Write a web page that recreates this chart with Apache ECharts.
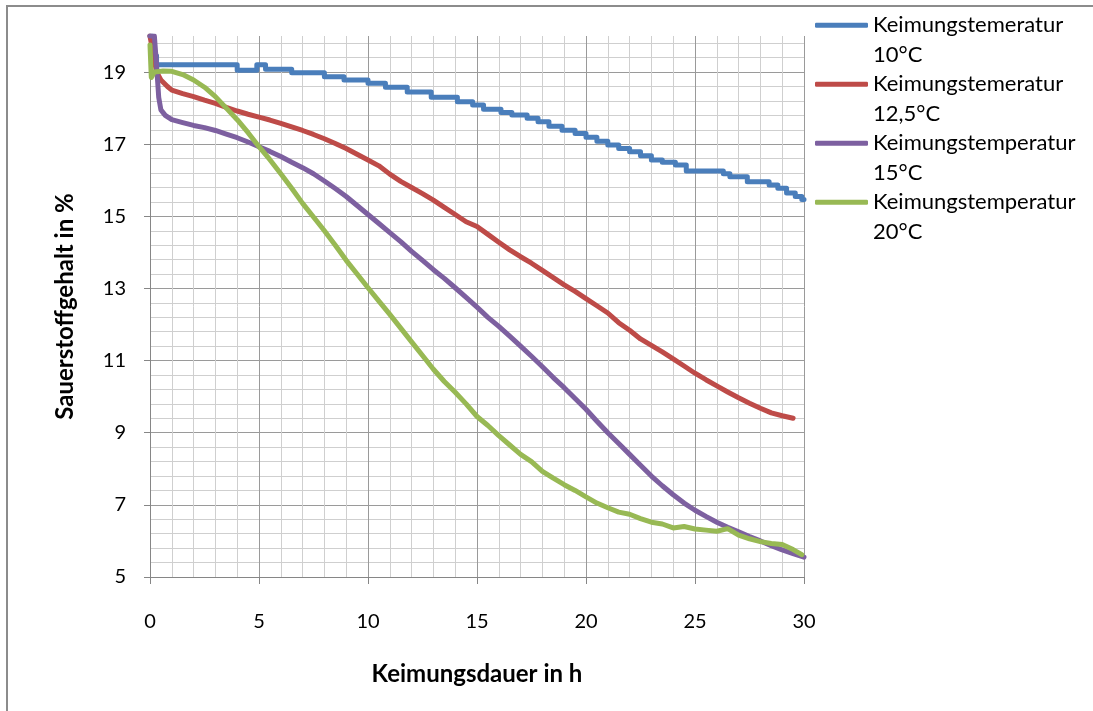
<!DOCTYPE html>
<html><head><meta charset="utf-8">
<script src="https://cdn.jsdelivr.net/npm/echarts@6/dist/echarts.min.js"></script>
<style>html,body{margin:0;padding:0;background:#fff}#c{width:1093px;height:711px}</style>
</head><body><div id="c"></div>
<script>
const seriesNames = ['Keimungstemeratur 10°C', 'Keimungstemeratur 12,5°C', 'Keimungstemperatur 15°C', 'Keimungstemperatur 20°C'];
const colors = ['#4a7ebb', '#be4b48', '#7d60a0', '#98b954'];
const yTickLabels = [5, 7, 9, 11, 13, 15, 17, 19];
const xTickLabels = [0, 5, 10, 15, 20, 25, 30];

// 10°C (stepped readings: value starts at time t)
const temp10 = [[0,20],[0.1,19.75],[0.2,19.45],[0.3,19.2],[4.0,19.05],[4.9,19.2],[5.3,19.08],[6.5,18.98],[8.0,18.87],[8.9,18.78],[10.0,18.69],[10.8,18.58],[11.8,18.45],[12.9,18.3],[14.1,18.18],[14.8,18.09],[15.3,17.97],[16.1,17.88],[16.6,17.81],[17.3,17.72],[17.8,17.62],[18.3,17.5],[18.9,17.39],[19.5,17.3],[20.0,17.19],[20.5,17.08],[21.0,16.98],[21.5,16.88],[22.0,16.79],[22.5,16.68],[23.0,16.56],[23.5,16.5],[24.1,16.42],[24.6,16.26],[26.3,16.18],[26.6,16.1],[27.4,15.96],[28.4,15.87],[28.8,15.78],[29.2,15.65],[29.6,15.55],[29.9,15.47],[30.0,15.47]];
// 12,5°C
const temp125 = [[0,20],[0.15,19.5],[0.3,19.0],[0.5,18.78],[0.8,18.6],[1.0,18.5],[1.5,18.4],[2,18.32],[2.5,18.22],[3,18.13],[3.5,18.02],[4,17.92],[4.5,17.83],[5,17.75],[5.5,17.67],[6,17.58],[6.5,17.48],[7,17.38],[7.5,17.27],[8,17.15],[8.5,17.02],[9,16.88],[9.5,16.72],[10,16.56],[10.5,16.4],[11,16.17],[11.5,15.97],[12,15.8],[12.5,15.63],[13,15.45],[13.5,15.25],[14,15.05],[14.5,14.85],[15,14.72],[15.5,14.5],[16,14.28],[16.5,14.07],[17,13.88],[17.5,13.7],[18,13.5],[18.5,13.3],[19,13.1],[19.5,12.92],[20,12.72],[20.5,12.52],[21,12.32],[21.5,12.05],[22,11.84],[22.5,11.6],[23,11.42],[23.5,11.24],[24,11.05],[24.5,10.85],[25,10.65],[25.5,10.47],[26,10.3],[26.5,10.13],[27,9.97],[27.5,9.82],[28,9.68],[28.5,9.55],[29,9.47],[29.5,9.4]];
// 15°C
const temp15 = [[0,20],[0.2,20],[0.3,19.2],[0.4,18.3],[0.5,17.95],[0.7,17.8],[1,17.68],[1.5,17.6],[2,17.52],[2.5,17.46],[3,17.38],[3.5,17.28],[4,17.18],[4.5,17.06],[5,16.93],[5.5,16.8],[6,16.66],[6.5,16.5],[7,16.35],[7.5,16.18],[8,15.98],[8.5,15.77],[9,15.55],[9.5,15.3],[10,15.05],[10.5,14.8],[11,14.55],[11.5,14.3],[12,14.03],[12.5,13.78],[13,13.52],[13.5,13.28],[14,13.02],[14.5,12.75],[15,12.48],[15.5,12.2],[16,11.95],[16.5,11.68],[17,11.4],[17.5,11.12],[18,10.83],[18.5,10.53],[19,10.25],[19.5,9.95],[20,9.65],[20.5,9.32],[21,9.0],[21.5,8.7],[22,8.4],[22.5,8.1],[23,7.8],[23.5,7.53],[24,7.28],[24.5,7.05],[25,6.85],[25.5,6.68],[26,6.52],[26.5,6.38],[27,6.25],[27.5,6.12],[28,6.0],[28.5,5.87],[29,5.75],[29.5,5.65],[30,5.55]];
// 20°C
const temp20 = [[0,19.75],[0.06,18.85],[0.2,19.0],[0.6,19.03],[1.0,19.02],[1.5,18.93],[2,18.78],[2.5,18.58],[3,18.32],[3.5,18.0],[4,17.68],[4.5,17.32],[5,16.93],[5.5,16.57],[6,16.18],[6.5,15.78],[7,15.36],[7.5,14.98],[8,14.6],[8.5,14.2],[9,13.78],[9.5,13.4],[10,13.02],[10.5,12.65],[11,12.28],[11.5,11.9],[12,11.52],[12.5,11.14],[13,10.76],[13.5,10.42],[14,10.12],[14.5,9.8],[15,9.45],[15.5,9.2],[16,8.92],[16.5,8.66],[17,8.4],[17.5,8.2],[18,7.93],[18.5,7.74],[19,7.56],[19.5,7.4],[20,7.22],[20.5,7.05],[21,6.92],[21.5,6.8],[22,6.74],[22.5,6.62],[23,6.52],[23.5,6.47],[24,6.36],[24.5,6.4],[25,6.33],[25.5,6.3],[26,6.27],[26.5,6.34],[27,6.16],[27.5,6.06],[28,5.98],[28.5,5.93],[29,5.9],[29.5,5.76],[29.9,5.62]];

const FONT = 'Lato';
const chart = echarts.init(document.getElementById('c'), null, {renderer: 'canvas'});
const lineSeries = (name, data, color, step) => ({
  name, type: 'line', data, step: step || false, showSymbol: false, symbol: 'none',
  xAxisIndex: 0, yAxisIndex: 0,
  lineStyle: {color, width: 5, cap: 'round', join: 'round'},
  itemStyle: {color}, emphasis: {disabled: true}, z: 3
});
chart.setOption({
  animation: false,
  backgroundColor: '#fff',
  textStyle: {fontFamily: FONT},
  grid: {left: 150, right: 289, top: 36, bottom: 134, containLabel: false},
  graphic: [{type: 'rect', silent: true, z: -10, shape: {x: 7, y: 6, width: 1100, height: 720},
    style: {fill: 'none', stroke: '#8c8c8c', lineWidth: 2}}],
  legend: {
    orient: 'vertical', left: 815, top: -19, padding: 0,
    itemWidth: 53, itemHeight: 5, itemGap: -29.5, icon: 'roundRect',
    data: seriesNames,
    formatter: n => '\n' + n.replace(' ', '\n'),
    textStyle: {fontFamily: FONT, fontSize: 22, color: '#000', lineHeight: 29.5}
  },
  xAxis: [{
    type: 'value', min: 0, max: 30, interval: 5,
    name: 'Keimungsdauer in h', nameLocation: 'middle', nameGap: 85,
    nameTextStyle: {fontFamily: FONT, fontSize: 24, fontWeight: 'bold', color: '#000'},
    axisLine: {show: true, onZero: false, lineStyle: {color: '#868686', width: 1}},
    axisTick: {show: true, length: 7, lineStyle: {color: '#868686'}},
    axisLabel: {fontFamily: FONT, fontSize: 20, color: '#000', margin: 35, customValues: xTickLabels},
    splitLine: {show: true, lineStyle: {color: '#9a9a9a', width: 1}},
    minorTick: {show: false, splitNumber: 5},
    minorSplitLine: {show: true, lineStyle: {color: '#cfcfcf', width: 1}}
  }],
  yAxis: [{
    type: 'value', min: 5, max: 20,
    name: 'Sauerstoffgehalt in %', nameLocation: 'middle', nameGap: 73, nameRotate: 90,
    nameTextStyle: {fontFamily: FONT, fontSize: 24, fontWeight: 'bold', color: '#000'},
    axisLine: {show: true, onZero: false, lineStyle: {color: '#868686', width: 1}},
    axisTick: {show: true, length: 6, lineStyle: {color: '#868686'}, customValues: yTickLabels},
    axisLabel: {fontFamily: FONT, fontSize: 20, color: '#000', margin: 24, customValues: yTickLabels},
    splitLine: {show: false}
  }, {
    // minor grid lines every 0.4 % (axis offset by 5 so it counts from 0)
    type: 'value', min: 0, max: 15, interval: 0.4, position: 'left',
    axisLine: {show: false}, axisTick: {show: false}, axisLabel: {show: false},
    splitLine: {show: true, showMinLine: false, showMaxLine: false, lineStyle: {color: '#cfcfcf', width: 1}}
  }, {
    // major grid lines every 2 % (5,7,...,19 expressed from 0)
    type: 'value', min: 0, max: 15, interval: 2, position: 'left',
    axisLine: {show: false}, axisTick: {show: false}, axisLabel: {show: false},
    splitLine: {show: true, showMinLine: false, showMaxLine: false, lineStyle: {color: '#9a9a9a', width: 1}}
  }],
  series: [
    lineSeries(seriesNames[0], temp10, colors[0], 'end'),
    lineSeries(seriesNames[1], temp125, colors[1]),
    lineSeries(seriesNames[2], temp15, colors[2]),
    lineSeries(seriesNames[3], temp20, colors[3])
  ]
});
</script></body></html>
